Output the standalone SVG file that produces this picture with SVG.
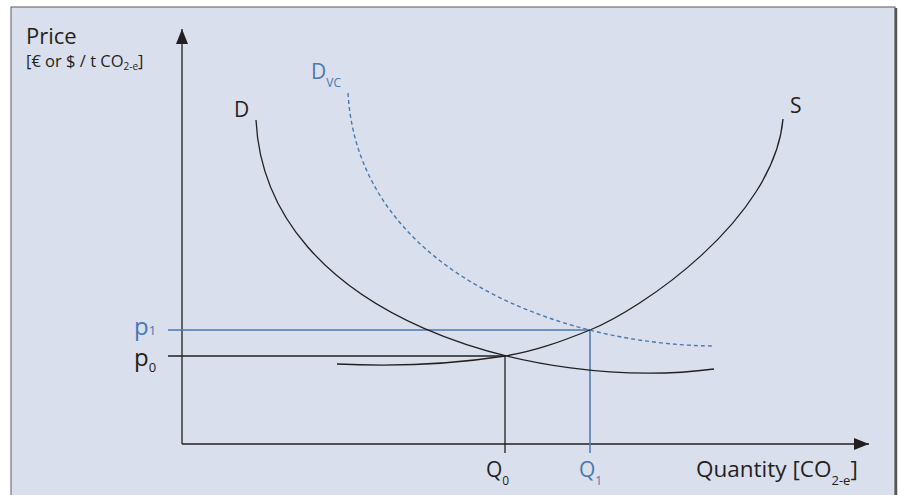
<svg xmlns="http://www.w3.org/2000/svg" width="898" height="495" viewBox="0 0 898 495">
<style>
.lbl{font-family:"Open Sans","Noto Sans",sans-serif;fill:#231f20}
.blue{fill:#4a78b0}
.curve{fill:none;stroke:#231f20;stroke-width:1.3}
.axis{fill:none;stroke:#231f20;stroke-width:1.3}
.bl{fill:none;stroke:#4a78b0;stroke-width:1.5}
.blk{fill:none;stroke:#231f20;stroke-width:1.3}
</style>
<defs>
<marker id="arr" markerWidth="16" markerHeight="12" refX="15" refY="6" orient="auto" markerUnits="userSpaceOnUse">
<path d="M0,0 L15,6 L0,12 Z" fill="#231f20"/>
</marker>
</defs>
<rect x="0" y="0" width="898" height="495" fill="#ffffff"/>
<rect x="11" y="7" width="884" height="500" fill="#d9dfec" stroke="#5a5a5a" stroke-width="1"/>
<line x1="896" y1="8" x2="896" y2="495" stroke="#555" stroke-width="2.5"/>

<g id="connectors">
<line class="axis" x1="182" y1="444" x2="182" y2="29" marker-end="url(#arr)"/>
<line class="axis" x1="182" y1="444" x2="869" y2="444" marker-end="url(#arr)"/>
<line class="bl" x1="168" y1="330" x2="590" y2="330"/>
<line class="bl" x1="590" y1="330" x2="590" y2="453"/>
<line class="blk" x1="168" y1="356" x2="505" y2="356"/>
<line class="blk" x1="505" y1="356" x2="505" y2="453"/>
</g>

<g id="curve-D">
<path class="curve" d="M256,120 C266,320 540,392 714,369"/>
<text class="lbl" x="234" y="117" font-size="21">D</text>
</g>
<g id="curve-S">
<path class="curve" d="M337,364 C400,367 460,363 505,356 C535,351.3 560,342 590,330 C640,310 774,220 783,119"/>
<text class="lbl" x="790" y="113" font-size="21">S</text>
</g>
<g id="curve-Dvc">
<path d="M348,93 C358,270 560,345 714,346" fill="none" stroke="#4a78b0" stroke-width="1.4" stroke-dasharray="4 3"/>
<text class="lbl blue" x="311" y="79" font-size="21">D<tspan font-size="12" dy="8">VC</tspan></text>
</g>

<g id="y-label">
<text class="lbl" x="26" y="44" font-size="22">Price</text>
<text class="lbl" x="26" y="67" font-size="16.5">[€ or $ / t CO<tspan font-size="10" dy="3">2-e</tspan><tspan dy="-3">]</tspan></text>
</g>
<g id="x-label">
<text class="lbl" x="696" y="477" font-size="22.5">Quantity [CO<tspan font-size="13" dy="8">2-e</tspan><tspan dy="-8">]</tspan></text>
</g>
<g id="p1">
<text class="lbl blue" x="134" y="335" font-size="24">p<tspan font-size="13">1</tspan></text>
</g>
<g id="p0">
<text class="lbl" x="134" y="366" font-size="24">p<tspan font-size="13" dy="6">0</tspan></text>
</g>
<g id="Q0">
<text class="lbl" x="486" y="477" font-size="21">Q<tspan font-size="12" dy="8">0</tspan></text>
</g>
<g id="Q1">
<text class="lbl blue" x="579" y="477" font-size="21">Q<tspan font-size="12" dy="8">1</tspan></text>
</g>
</svg>
